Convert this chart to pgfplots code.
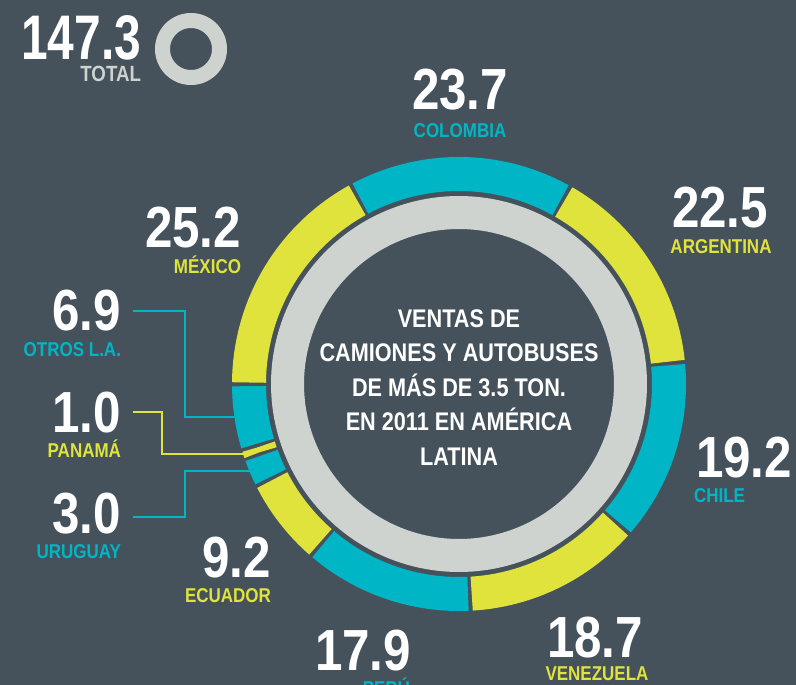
\documentclass[border=0pt]{standalone}
\usepackage{pgfplots}
\pgfplotsset{compat=1.18}
\usepackage{pgfplotstable}
\usepackage{fontspec}
\setmainfont{Liberation Sans}[FakeStretch=0.85]
\newfontfamily\angosta{Liberation Sans}[FakeStretch=0.76]

\definecolor{fondo}{RGB}{69,82,92}
\definecolor{cian}{RGB}{0,182,198}
\definecolor{amarillo}{RGB}{224,227,59}
\definecolor{gris}{RGB}{206,211,207}

% ventas por pais, en el orden del anillo (horario desde arriba)
\pgfplotstableread{
pais valor color
Colombia 23.7 cian
Argentina 22.5 amarillo
Chile 19.2 cian
Venezuela 18.7 amarillo
Peru 17.9 cian
Ecuador 9.2 amarillo
Uruguay 3.0 cian
Panama 1.0 amarillo
Otros 6.9 cian
Mexico 25.2 amarillo
}\ventas

\newcommand\cifra[1]{\fontsize{58}{58}\selectfont\bfseries #1}
\newcommand\nombre[1]{\fontsize{20}{20}\selectfont\bfseries #1}
\newcommand\centro[1]{\fontsize{25.5}{25.5}\selectfont\bfseries #1}

\begin{document}
\begin{tikzpicture}[lab/.style={inner sep=0pt, outer sep=0pt}]
\fill[fondo] (0,0) rectangle (796pt,685pt);
\begin{axis}[
    at={(0,0)}, anchor=south west,
    scale only axis, width=796pt, height=685pt,
    xmin=0, xmax=796, ymin=0, ymax=685,
    y dir=reverse,
    hide axis, clip=false,
]

% anillo gris interior
\addplot[draw=gris, line width=33pt, domain=0:361, samples=200]
    ({459+171.5*sin(x)},{384-171.5*cos(x)});

% segmentos del anillo
\def\acum{-28.5}
\pgfplotsforeachungrouped \i in {0,...,9}{%
    \pgfplotstablegetelem{\i}{valor}\of\ventas
    \let\segval\pgfplotsretval
    \pgfplotstablegetelem{\i}{color}\of\ventas
    \let\segcol\pgfplotsretval
    \pgfmathsetmacro\ini{\acum+0.5}
    \pgfmathsetmacro\fin{\acum+\segval*360/147.3-0.5}
    \pgfmathsetmacro\acum{\acum+\segval*360/147.3}
    \edef\seg{\noexpand\addplot[draw=\segcol, line width=34pt, domain=\ini:\fin, samples=60]
        ({459+210*sin(x)},{384-210*cos(x)});}
    \seg
}

% icono del total
\addplot[draw=gris, line width=15pt, domain=0:361, samples=100]
    ({191+28.5*sin(x)},{49-28.5*cos(x)});

% lineas guia
\addplot[cian, line width=2pt] coordinates {(133,311) (185,311) (185,417) (237,417)};
\addplot[amarillo, line width=2pt] coordinates {(133,412) (162,412) (162,454) (245,454)};
\addplot[cian, line width=2pt] coordinates {(133,517) (185,517) (185,471) (251,471)};

% total
\node[lab, anchor=base east, text=white] at (axis cs:141,60) {\fontsize{63}{63}\selectfont\angosta\bfseries 147.3};
\node[lab, anchor=base east, text=gris] at (axis cs:141,82) {\fontsize{22}{22}\selectfont\bfseries TOTAL};

% etiquetas
\node[lab, anchor=base, text=white] at (axis cs:460,110) {\cifra{23.7}};
\node[lab, anchor=base, text=cian] at (axis cs:460,137) {\nombre{COLOMBIA}};

\node[lab, anchor=base, text=white] at (axis cs:720,227) {\cifra{22.5}};
\node[lab, anchor=base, text=amarillo] at (axis cs:721,253) {\nombre{ARGENTINA}};

\node[lab, anchor=base west, text=white] at (axis cs:696,477) {\cifra{19.2}};
\node[lab, anchor=base west, text=cian] at (axis cs:694,502) {\nombre{CHILE}};

\node[lab, anchor=base, text=white] at (axis cs:595,657) {\cifra{18.7}};
\node[lab, anchor=base, text=amarillo] at (axis cs:597,680) {\nombre{VENEZUELA}};

\node[lab, anchor=base east, text=white] at (axis cs:411,670) {\cifra{17.9}};
\node[lab, anchor=base east, text=cian] at (axis cs:410,695) {\nombre{PERÚ}};

\node[lab, anchor=base east, text=white] at (axis cs:271,577) {\cifra{9.2}};
\node[lab, anchor=base east, text=amarillo] at (axis cs:271,602) {\nombre{ECUADOR}};

\node[lab, anchor=base east, text=white] at (axis cs:241,247) {\cifra{25.2}};
\node[lab, anchor=base east, text=amarillo] at (axis cs:241,273) {\nombre{MÉXICO}};

\node[lab, anchor=base east, text=white] at (axis cs:121,330) {\cifra{6.9}};
\node[lab, anchor=base east, text=cian] at (axis cs:121,356) {\nombre{OTROS L.A.}};

\node[lab, anchor=base east, text=white] at (axis cs:121,432) {\cifra{1.0}};
\node[lab, anchor=base east, text=amarillo] at (axis cs:121,457) {\nombre{PANAMÁ}};

\node[lab, anchor=base east, text=white] at (axis cs:121,533) {\cifra{3.0}};
\node[lab, anchor=base east, text=cian] at (axis cs:121,558) {\nombre{URUGUAY}};

% texto central
\node[lab, anchor=base, text=white] at (axis cs:459,327) {\centro{VENTAS DE}};
\node[lab, anchor=base, text=white] at (axis cs:459,361.5) {\centro{CAMIONES Y AUTOBUSES}};
\node[lab, anchor=base, text=white] at (axis cs:459,396) {\centro{DE MÁS DE 3.5 TON.}};
\node[lab, anchor=base, text=white] at (axis cs:459,430.5) {\centro{EN 2011 EN AMÉRICA}};
\node[lab, anchor=base, text=white] at (axis cs:459,465) {\centro{LATINA}};
\end{axis}
\pgfresetboundingbox
\path[use as bounding box] (0,0) rectangle (796pt,685pt);
\end{tikzpicture}
\end{document}
